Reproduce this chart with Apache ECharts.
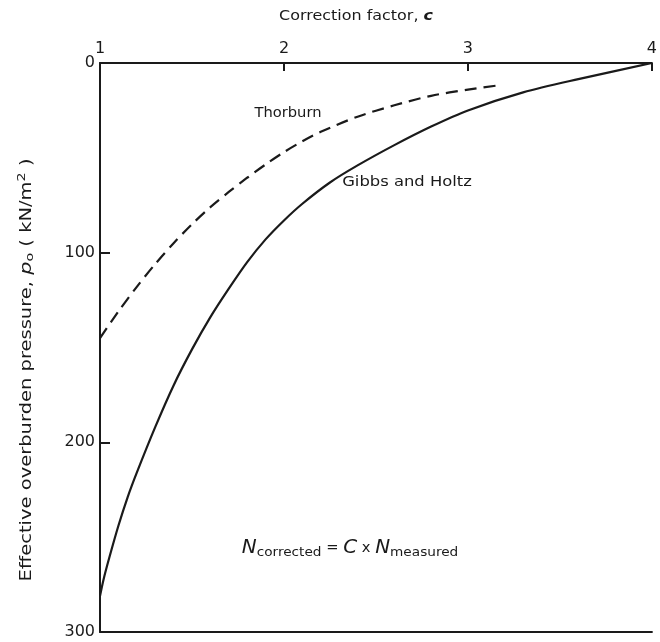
<!DOCTYPE html>
<html>
<head>
<meta charset="utf-8">
<script src="https://cdn.jsdelivr.net/npm/echarts@6/dist/echarts.min.js"></script>
<style>
html,body{margin:0;padding:0;background:#fff;}
#chart{width:660px;height:642px;}
</style>
</head>
<body>
<div id="chart"></div>
<script>
// Correction factor c (x) vs effective overburden pressure p0 (y, kN/m2)
var xTicks = [1, 2, 3, 4];
var yTicks = [0, 100, 200, 300];

var gibbsC = [1.0, 1.02, 1.05, 1.1, 1.15, 1.2, 1.3, 1.4, 1.5, 1.6, 1.7, 1.8, 1.9, 2.0, 2.1, 2.25, 2.4, 2.6, 2.8, 3.0, 3.3, 3.6, 4.0];
var gibbsP = [281, 272, 261, 244, 229, 216, 192, 170, 151, 134, 119, 105, 93, 83, 74.2, 63, 54, 43.3, 33.5, 25, 15.5, 8.5, 0];

var thorC = [1.0, 1.1, 1.2, 1.3, 1.4, 1.5, 1.6, 1.7, 1.8, 1.9, 2.0, 2.1, 2.2, 2.4, 2.6, 2.8, 3.0, 3.15];
var thorP = [145, 131, 118, 106, 95, 85, 76, 68, 60.5, 53.5, 47, 41.3, 36.3, 28.3, 22.3, 17.3, 14, 12];

var seriesNames = ['Gibbs and Holtz', 'Thorburn'];

function pairs(cs, ps) { return cs.map(function (c, i) { return [c, ps[i]]; }); }

var FONT = 'DejaVu Sans';
var INK = '#1a1a1a';

var chart = echarts.init(document.getElementById('chart'), null, {renderer: 'canvas'});
var option = {
  backgroundColor: '#fff',
  animation: false,
  grid: {left: 100, top: 63, right: 5, bottom: 10},
  xAxis: [{
    type: 'value', position: 'top',
    min: xTicks[0], max: xTicks[xTicks.length - 1], interval: 1,
    axisLine: {show: true, lineStyle: {color: INK, width: 2}},
    axisTick: {show: true, inside: true, length: 8, lineStyle: {color: INK, width: 2}},
    axisLabel: {color: INK, fontSize: 16, fontFamily: FONT, margin: 6},
    splitLine: {show: false}
  }, {
    type: 'value', position: 'bottom',
    min: xTicks[0], max: xTicks[xTicks.length - 1],
    axisLine: {show: true, onZero: false, lineStyle: {color: INK, width: 2}},
    axisTick: {show: false}, axisLabel: {show: false}, splitLine: {show: false}
  }],
  yAxis: {
    type: 'value', inverse: true,
    min: yTicks[0], max: yTicks[yTicks.length - 1], interval: 100,
    axisLine: {show: true, lineStyle: {color: INK, width: 2}},
    axisTick: {show: true, inside: true, length: 10, lineStyle: {color: INK, width: 2}},
    axisLabel: {color: INK, fontSize: 16, fontFamily: FONT, margin: 5},
    splitLine: {show: false}
  },
  series: [{
    name: seriesNames[0], type: 'line', smooth: 0.3, showSymbol: false,
    data: pairs(gibbsC, gibbsP),
    lineStyle: {color: INK, width: 2.2}
  }, {
    name: seriesNames[1], type: 'line', smooth: 0.3, showSymbol: false,
    data: pairs(thorC, thorP),
    lineStyle: {color: INK, width: 2.2, type: [12, 7]}
  }],
  graphic: [{
    type: 'text', x: 356, y: 16, scaleX: 1.14,
    style: {
      align: 'center', verticalAlign: 'middle',
      text: '{a|Correction factor, }{i|c}',
      rich: {
        a: {fontSize: 14, fontFamily: FONT, fill: INK},
        i: {fontSize: 14, fontFamily: FONT, fontStyle: 'italic', fontWeight: 'bold', fill: INK}
      }
    }
  }, {
    type: 'text', x: 288, y: 113, scaleX: 1.05,
    style: {text: seriesNames[1], font: '14px "DejaVu Sans"', fill: INK, align: 'center', verticalAlign: 'middle'}
  }, {
    type: 'text', x: 407, y: 182, scaleX: 1.17,
    style: {text: seriesNames[0], font: '14px "DejaVu Sans"', fill: INK, align: 'center', verticalAlign: 'middle'}
  }, {
    type: 'text', x: 350, y: 548, scaleX: 1.05,
    style: {
      align: 'center', verticalAlign: 'middle',
      text: '{n|N}{s|corrected}{t| = }{n|C}{t| x }{n|N}{s|measured}',
      rich: {
        n: {fontSize: 19, fontFamily: FONT, fontStyle: 'italic', fill: INK, lineHeight: 24, verticalAlign: 'middle'},
        s: {fontSize: 13, fontFamily: FONT, fill: INK, lineHeight: 24, padding: [10, 0, 0, 0], verticalAlign: 'middle'},
        t: {fontSize: 14, fontFamily: FONT, fill: INK, lineHeight: 24, verticalAlign: 'middle'}
      }
    }
  }, {
    type: 'text', x: 27, y: 370, rotation: Math.PI / 2, scaleX: 1.3,
    style: {
      align: 'center', verticalAlign: 'middle',
      text: '{a|Effective overburden pressure, }{i|p}{s|o}{a| ( kN/m}{u|2}{a| )}',
      rich: {
        a: {fontSize: 15, fontFamily: FONT, fill: INK, lineHeight: 22, verticalAlign: 'middle'},
        i: {fontSize: 16, fontFamily: FONT, fontStyle: 'italic', fill: INK, lineHeight: 22, verticalAlign: 'middle'},
        s: {fontSize: 11, fontFamily: FONT, fill: INK, lineHeight: 22, padding: [7, 0, 0, 0], verticalAlign: 'middle'},
        u: {fontSize: 11, fontFamily: FONT, fill: INK, lineHeight: 22, padding: [0, 0, 9, 0], verticalAlign: 'middle'}
      }
    }
  }]
};
chart.setOption(option);
</script>
</body>
</html>
